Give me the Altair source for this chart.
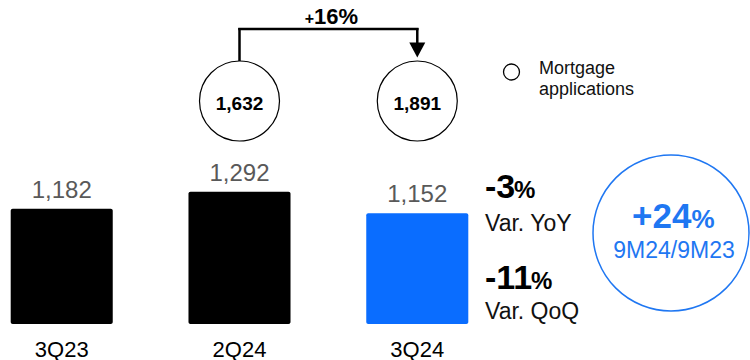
import altair as alt
import pandas as pd

# ---- data ----
quarters = ["3Q23", "2Q24", "3Q24"]
values = [1182, 1292, 1152]
highlight = ["no", "no", "yes"]
app_quarters = ["2Q24", "3Q24"]
app_values = [1632, 1891]
app_growth_sign = "+"
app_growth = "16%"
legend_lines = ["Mortgage", "applications"]
yoy_value = "-3"
yoy_label = "Var. YoY"
qoq_value = "-11"
qoq_label = "Var. QoQ"
ytd_value = "+24"
ytd_label = "9M24/9M23"
pct = "%"

# ---- styles ----
FONT = "Liberation Sans, Arial, sans-serif"
BLUE = "#0A6DFF"
BLUE2 = "#1F77F2"
INK = "#111111"
BASE = 432

bars_df = pd.DataFrame({"quarter": quarters, "value": values, "hl": highlight})
apps_df = pd.DataFrame({"quarter": app_quarters, "apps": app_values})

xscale = alt.Scale(domain=quarters, range=[10.7, 468.3], paddingInner=0.426, paddingOuter=0)
x = alt.X("quarter:N", sort=quarters, scale=xscale, axis=None)
yscale = alt.Scale(domain=[BASE, 1292], range=[324, 191.8], zero=False, nice=False)
y = alt.Y("value:Q", scale=yscale, axis=None)

bars = alt.Chart(bars_df).mark_bar(cornerRadius=2).encode(
    x=x,
    y=y,
    y2=alt.datum(BASE),
    color=alt.Color("hl:N", scale=alt.Scale(domain=["no", "yes"], range=["#000000", BLUE]), legend=None),
)

bar_labels = alt.Chart(bars_df).mark_text(
    dy=-11, baseline="alphabetic", fontSize=24, color="#595959", font=FONT
).encode(x=x, y=y, text=alt.Text("value:Q", format=","))

cat_labels = alt.Chart(bars_df).mark_text(
    y=356.5, baseline="alphabetic", fontSize=22, color="#000000", font=FONT
).encode(x=x, text="quarter:N")

app_circles = alt.Chart(apps_df).mark_point(
    shape="circle", size=6400, filled=False, stroke="black", strokeWidth=1.2, opacity=1, y=101
).encode(x=x)

app_text = alt.Chart(apps_df).mark_text(
    y=109.5, baseline="alphabetic", fontSize=19, fontWeight="bold", color="#000000", font=FONT
).encode(x=x, text=alt.Text("apps:Q", format=","))

left_rule = alt.Chart(pd.DataFrame({"quarter": [app_quarters[0]]})).mark_rule(
    y=61, y2=28, strokeWidth=2.5, color="black"
).encode(x=x)
right_rule = alt.Chart(pd.DataFrame({"quarter": [app_quarters[1]]})).mark_rule(
    y=28, y2=45, strokeWidth=2.5, color="black"
).encode(x=x)
top_rule = alt.Chart(pd.DataFrame({"quarter": [app_quarters[0]], "to": [app_quarters[1]]})).mark_rule(
    y=29, strokeWidth=2.5, color="black", strokeCap="square"
).encode(x=x, x2="to:N")
arrow_head = alt.Chart(pd.DataFrame({"quarter": [app_quarters[1]]})).mark_point(
    shape="M-1,-0.94L1,-0.94L0,0.94Z", size=256, filled=True, color="black", opacity=1, y=50
).encode(x=x)


def label(text, **kw):
    return alt.Chart(pd.DataFrame({"t": [text]})).mark_text(
        font=FONT, baseline="alphabetic", **kw
    ).encode(text="t:N")


plus_lbl = label(app_growth_sign, x=314, y=24, align="right", fontSize=16, fontWeight="bold", color="#000")
growth_lbl = label(app_growth, x=314, y=24, align="left", fontSize=22, fontWeight="bold", color="#000")

legend_circle = alt.Chart(pd.DataFrame({"t": [legend_lines[0]]})).mark_point(
    shape="circle", size=256, filled=False, stroke="black", strokeWidth=1.3, opacity=1
).encode(x=alt.value(511.5), y=alt.value(72))
legend_l1 = label(legend_lines[0], x=539, y=74, align="left", fontSize=18, color=INK)
legend_l2 = label(legend_lines[1], x=539, y=95, align="left", fontSize=18, color=INK)

yoy_v = label(yoy_value, x=485, y=198, align="left", fontSize=34, fontWeight="bold", color="#000")
yoy_p = label(pct, x=514, y=198, align="left", fontSize=24, fontWeight="bold", color="#000")
yoy_l = label(yoy_label, x=485, y=231, align="left", fontSize=23, color=INK)
qoq_v = label(qoq_value, x=485, y=289, align="left", fontSize=34, fontWeight="bold", color="#000")
qoq_p = label(pct, x=531, y=289, align="left", fontSize=24, fontWeight="bold", color="#000")
qoq_l = label(qoq_label, x=485, y=319, align="left", fontSize=23, color=INK)

big_circle = alt.Chart(pd.DataFrame({"t": [ytd_label]})).mark_point(
    shape="circle", size=24336, filled=False, stroke=BLUE2, strokeWidth=1.5, opacity=1
).encode(x=alt.value(671), y=alt.value(233))
ytd_v = label(ytd_value, x=632, y=228, align="left", fontSize=35, fontWeight="bold", color=BLUE2)
ytd_p = label(pct, x=691.5, y=228, align="left", fontSize=26, fontWeight="bold", color=BLUE2)
ytd_l = label(ytd_label, x=674, y=258, align="center", fontSize=23, color=BLUE2)

chart = alt.layer(
    bars, bar_labels, cat_labels,
    app_circles, app_text, left_rule, right_rule, top_rule, arrow_head,
    plus_lbl, growth_lbl, legend_circle, legend_l1, legend_l2,
    yoy_v, yoy_p, yoy_l, qoq_v, qoq_p, qoq_l,
    big_circle, ytd_v, ytd_p, ytd_l,
).properties(
    width=750, height=360, padding=0, background="white",
    autosize=alt.AutoSizeParams(type="none"),
).configure_view(stroke=None)

chart.save("out.html", embed_options={"renderer": "svg", "actions": False})
